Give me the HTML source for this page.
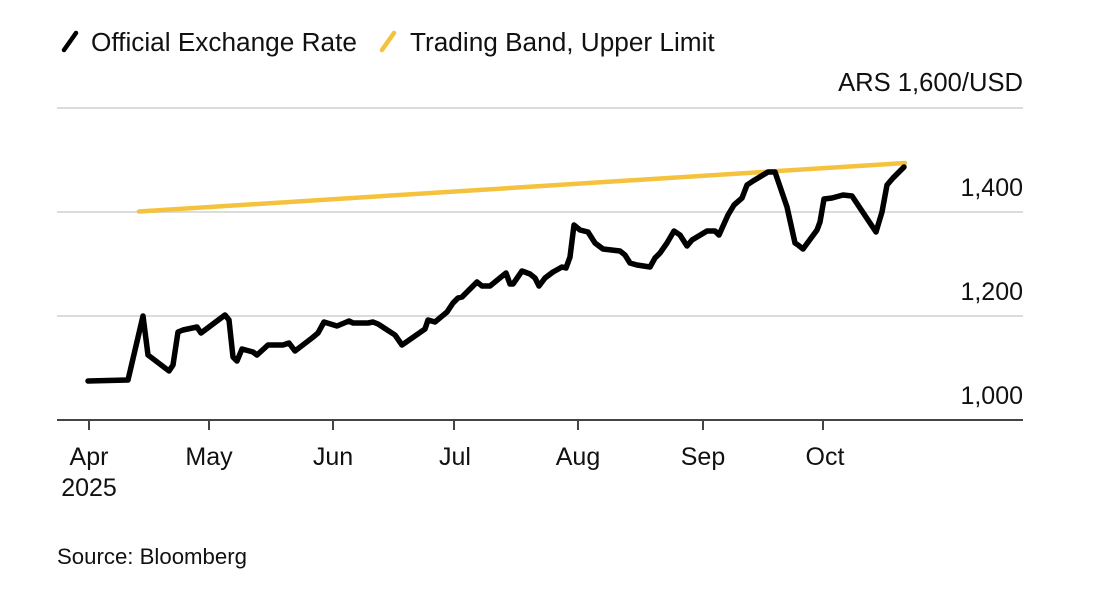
<!DOCTYPE html>
<html>
<head>
<meta charset="utf-8">
<style>
  html, body { margin: 0; padding: 0; background: #ffffff; }
  body { width: 1103px; height: 598px; overflow: hidden; }
  svg { display: block; }
  text { font-family: "Liberation Sans", Arial, sans-serif; fill: #111; }
</style>
</head>
<body>
<svg width="1103" height="598" viewBox="0 0 1103 598" xmlns="http://www.w3.org/2000/svg">
  <rect width="1103" height="598" fill="#ffffff"/>

  <!-- Legend -->
  <line x1="64" y1="50" x2="76" y2="33" stroke="#000" stroke-width="4.5" stroke-linecap="round"/>
  <text x="91" y="51" font-size="26.2">Official Exchange Rate</text>
  <line x1="382" y1="50" x2="394" y2="33" stroke="#f4c23c" stroke-width="4.5" stroke-linecap="round"/>
  <text x="410" y="51" font-size="26.2">Trading Band, Upper Limit</text>

  <!-- Unit label -->
  <text x="1023" y="91" font-size="25.6" text-anchor="end">ARS 1,600/USD</text>

  <!-- Gridlines -->
  <line x1="57" y1="108" x2="1023" y2="108" stroke="#dcdcdc" stroke-width="2"/>
  <line x1="57" y1="212" x2="1023" y2="212" stroke="#dcdcdc" stroke-width="2"/>
  <line x1="57" y1="316" x2="1023" y2="316" stroke="#dcdcdc" stroke-width="2"/>

  <!-- Y labels -->
  <text x="1023" y="196" font-size="25" text-anchor="end">1,400</text>
  <text x="1023" y="300" font-size="25" text-anchor="end">1,200</text>
  <text x="1023" y="404" font-size="25" text-anchor="end">1,000</text>

  <!-- Axis -->
  <line x1="57" y1="420" x2="1023" y2="420" stroke="#444" stroke-width="2"/>
  <g stroke="#444" stroke-width="2">
    <line x1="89" y1="420" x2="89" y2="430"/>
    <line x1="209" y1="420" x2="209" y2="430"/>
    <line x1="333" y1="420" x2="333" y2="430"/>
    <line x1="454" y1="420" x2="454" y2="430"/>
    <line x1="578" y1="420" x2="578" y2="430"/>
    <line x1="703" y1="420" x2="703" y2="430"/>
    <line x1="823" y1="420" x2="823" y2="430"/>
  </g>

  <!-- X labels -->
  <g font-size="25" text-anchor="middle">
    <text x="89" y="465">Apr</text>
    <text x="89" y="496">2025</text>
    <text x="209" y="465">May</text>
    <text x="333" y="465">Jun</text>
    <text x="455" y="465">Jul</text>
    <text x="578" y="465">Aug</text>
    <text x="703" y="465">Sep</text>
    <text x="825" y="465">Oct</text>
  </g>

  <!-- Trading band upper limit -->
  <line x1="139" y1="211.5" x2="905" y2="163" stroke="#f4c23c" stroke-width="4.5" stroke-linecap="round"/>

  <!-- Official exchange rate -->
  <polyline fill="none" stroke="#000" stroke-width="5.5" stroke-linejoin="round" stroke-linecap="round"
    points="88,381 128,380 143,316 148,355 169,371 173,365 178,332 183,330 197,327 201,333 225,315 229,320 233,357 237,361 242,349 253,352 257,355 268,345 283,345 289,343 295,351 312,338 318,333 324,322 337,326 349,321 353,323 368,323 373,322 378,324 395,335 402,345 425,329 428,320 435,322 447,312 453,303 458,298 462,297 477,282 482,286 490,286 506,273 510,284 513,284 522,271 530,274 535,278 539,286 545,278 553,272 562,267 566,268 570,257 574,225 580,230 588,232 595,243 603,249 620,251 625,255 630,263 637,265 650,267 655,258 660,253 667,243 674,231 680,235 687,246 692,240 707,231 715,231 719,235 728,215 734,205 742,198 747,185 753,181 763,175 768,172 775,172 787,207 795,243 798,245 803,249 817,230 820,222 824,199 832,198 843,195 852,196 876,232 882,212 887,185 893,178 904,167"/>

  <!-- Source -->
  <text x="57" y="564" font-size="22.2">Source: Bloomberg</text>
</svg>
</body>
</html>
